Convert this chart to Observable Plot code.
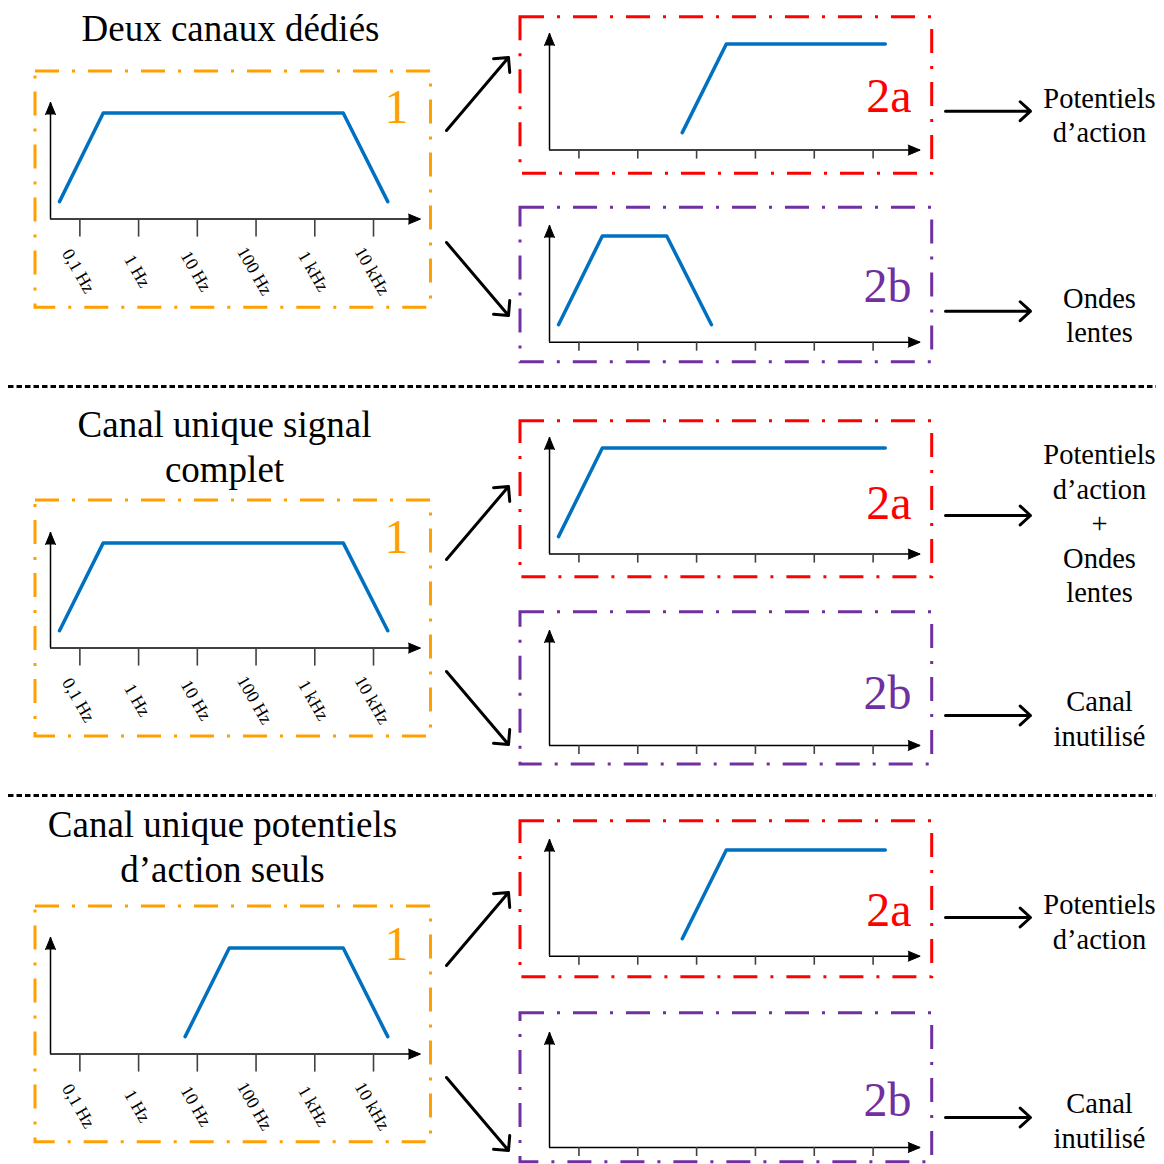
<!DOCTYPE html>
<html><head><meta charset="utf-8">
<script src="https://cdn.jsdelivr.net/npm/d3@7"></script>
<script src="https://cdn.jsdelivr.net/npm/@observablehq/plot@0.6"></script>
<style>
body{margin:0;background:#fff;}
#fig{position:relative;width:1164px;height:1164px;overflow:hidden;font-family:"Liberation Serif",serif;background:#fff;}
#fig svg{position:absolute;max-width:none;background:transparent;overflow:visible;}
</style></head><body><div id="fig"></div>
<script>
// ---------- DATA ----------
const tickFreqs = [0.1, 1, 10, 100, 1000, 10000];
const tickLabels = ["0,1 Hz", "1 Hz", "10 Hz", "100 Hz", "1 kHz", "10 kHz"];
const rowTitles = ["Deux canaux dédiés", "Canal unique signal\ncomplet", "Canal unique potentiels\nd’action seuls"];
const outputs2a = ["Potentiels\nd’action", "Potentiels\nd’action\n+\nOndes\nlentes", "Potentiels\nd’action"];
const outputs2b = ["Ondes\nlentes", "Canal\ninutilisé", "Canal\ninutilisé"];
const stageNames = ["1", "2a", "2b"];
// frequency responses (Hz, relative gain) per row
const stage1Freq = [[0.045, 0.25, 3050, 17500], [0.045, 0.25, 3050, 17500], [6.2, 35, 3050, 17500]];
const stage1Gain = [[0.15, 0.91, 0.91, 0.15], [0.15, 0.91, 0.91, 0.15], [0.15, 0.91, 0.91, 0.15]];
const stage2aFreq = [[5.7, 32, 16100], [0.045, 0.25, 16100], [5.7, 32, 16100]];
const stage2aGain = [[0.15, 0.91, 0.91], [0.15, 0.91, 0.91], [0.15, 0.91, 0.91]];
const stage2bFreq = [[0.045, 0.25, 3.1, 17.9], [], []];
const stage2bGain = [[0.15, 0.91, 0.91, 0.15], [], []];
const freqDomain = [Math.pow(10, -1.5), Math.pow(10, 4.8)];
const gainDomain = [0, 1];

// ---------- LAYOUT ----------
const stageGeom = [
  [{ox:50, oy:218.3, tx:420, ty:101.7, tick:18}, {ox:549.3, oy:149.3, tx:920, ty:32.7, tick:9}, {ox:549.3, oy:341.7, tx:920, ty:225, tick:9}],
  [{ox:50, oy:647.3, tx:420, ty:531.7, tick:18}, {ox:549.3, oy:553.3, tx:920, ty:436.7, tick:9}, {ox:549.3, oy:745, tx:920, ty:630, tick:9}],
  [{ox:50, oy:1053.3, tx:420, ty:936.7, tick:18}, {ox:549.3, oy:956, tx:920, ty:839.3, tick:9}, {ox:549.3, oy:1146.7, tx:920, ty:1031.7, tick:9}]
];
const boxGeom = [
  [[35,71,430.5,307.3],[520,16.7,931.7,173.3],[520,207.3,931.7,361.7]],
  [[35,500,430.5,736],[520,420.7,931.7,576.7],[520,611.7,931.7,764]],
  [[35,906,430.5,1141.7],[520,820.7,931.7,976.7],[520,1012.7,931.7,1161.7]]
];
const stageLabelPos = [
  [[408,122.7],[911,111.7],[911,301.7]],
  [[408,552.7],[911,518.3],[911,708.3]],
  [[408,959],[911,925],[911,1115]]
];
const stageColors = ["#FFA000", "#FF0000", "#7030A0"];
const titlePos = [[230,40],[224,481.7],[222,881.5]];
const out2aPos = [[1099,141.7],[1099,601.7],[1099,948]];
const out2bPos = [[1099,341.7],[1099,745],[1099,1147]];
const rightArrowY = [[110.7,310.7],[515,715],[917,1117]];
const rowOffset = [0, 429, 835];
const separatorY = [386, 795];

const fig = document.getElementById("fig");
const serif = "Liberation Serif";

// ---------- OVERLAY (frames, arrows, texts) ----------
const boxes = [], stageLabels = [], diagArrows = [], rightArrows = [], titles = [], outs = [];
for (let r = 0; r < 3; r++) {
  for (let s = 0; s < 3; s++) {
    const b = boxGeom[r][s];
    boxes.push({x1:b[0], y1:b[1], x2:b[2], y2:b[3], c:stageColors[s]});
    stageLabels.push({x:stageLabelPos[r][s][0], y:stageLabelPos[r][s][1], t:stageNames[s], c:stageColors[s]});
  }
  const o = rowOffset[r];
  diagArrows.push({x1:446, y1:130+o, x2:508, y2:57+o});
  diagArrows.push({x1:446, y1:242+o, x2:508, y2:315+o});
  for (const y of rightArrowY[r]) rightArrows.push({x1:945, y1:y, x2:1030, y2:y});
  titles.push({x:titlePos[r][0], y:titlePos[r][1], t:rowTitles[r]});
  outs.push({x:out2aPos[r][0], y:out2aPos[r][1], t:outputs2a[r]});
  outs.push({x:out2bPos[r][0], y:out2bPos[r][1], t:outputs2b[r]});
}

const overlay = Plot.plot({
  width:1164, height:1164, margin:0,
  x:{type:"identity"}, y:{type:"identity"}, color:{type:"identity"},
  style:{background:"transparent", left:"0px", top:"0px"},
  marks:[
    Plot.ruleY(separatorY, {y:d=>d, x1:8, x2:1156, stroke:"black", strokeWidth:2.8, strokeDasharray:"5.5,3"}),
    Plot.rect(boxes, {x1:"x1", y1:"y1", x2:"x2", y2:"y2", fill:"none", stroke:"c", strokeWidth:3, strokeDasharray:"24,13,3,13"}),
    Plot.arrow(diagArrows, {x1:"x1", y1:"y1", x2:"x2", y2:"y2", stroke:"black", strokeWidth:3, headLength:7.5, headAngle:90}),
    Plot.arrow(rightArrows, {x1:"x1", y1:"y1", x2:"x2", y2:"y2", stroke:"black", strokeWidth:3, headLength:7, headAngle:85}),
    Plot.text(stageLabels, {x:"x", y:"y", text:"t", fill:"c", fontSize:48, fontFamily:serif, textAnchor:"end", lineAnchor:"bottom"}),
    Plot.text(titles, {x:"x", y:"y", text:"t", fill:"black", fontSize:37, fontFamily:serif, textAnchor:"middle", lineAnchor:"bottom", lineHeight:45/37}),
    Plot.text(outs, {x:"x", y:"y", text:"t", fill:"black", fontSize:28.5, fontFamily:serif, textAnchor:"middle", lineAnchor:"bottom", lineHeight:34.5/28.5})
  ]
});
fig.append(overlay);

// ---------- PANELS (frequency responses) ----------
function panel(freqs, gains, g, labelled) {
  const mL = 12, mR = 16, mT = 16, mB = labelled ? 90 : 22;
  const w = g.tx - g.ox + mL + mR, h = g.oy - g.ty + mT + mB;
  const pts = freqs.map((f, i) => ({f, g: gains[i]}));
  const heads = [{x:freqDomain[1], y:0, rot:90}, {x:freqDomain[0], y:1, rot:0}];
  const marks = [
    Plot.ruleY([0], {stroke:"black", strokeWidth:1.5}),
    Plot.ruleX([freqDomain[0]], {stroke:"black", strokeWidth:1.5}),
    Plot.ruleX(tickFreqs, {x:d=>d, y1:0, y2:0, insetBottom:-g.tick, stroke:"#404040", strokeWidth:1.6}),
    Plot.vector(heads, {x:"x", y:"y", rotate:"rot", shape:"spike", anchor:"end", length:12, r:5, fill:"black", stroke:"black", strokeWidth:1}),
    Plot.line(pts, {x:"f", y:"g", stroke:"#0070C0", strokeWidth:3.5, strokeLinejoin:"round"})
  ];
  if (labelled) marks.push(Plot.text(tickFreqs, {x:d=>d, text:(d,i)=>tickLabels[i], frameAnchor:"bottom", dy:52, dx:-1.5, rotate:60, textAnchor:"middle", lineAnchor:"middle", fontSize:18, fontFamily:serif, fill:"black"}));
  const svg = Plot.plot({
    width:w, height:h, marginLeft:mL, marginRight:mR, marginTop:mT, marginBottom:mB,
    x:{type:"log", domain:freqDomain, label:null, axis:null},
    y:{domain:gainDomain, axis:null},
    style:{background:"transparent", left:(g.ox - mL)+"px", top:(g.ty - mT)+"px"},
    marks
  });
  fig.append(svg);
}

for (let r = 0; r < 3; r++) {
  panel(stage1Freq[r], stage1Gain[r], stageGeom[r][0], true);
  panel(stage2aFreq[r], stage2aGain[r], stageGeom[r][1], false);
  panel(stage2bFreq[r], stage2bGain[r], stageGeom[r][2], false);
}
</script></body></html>
